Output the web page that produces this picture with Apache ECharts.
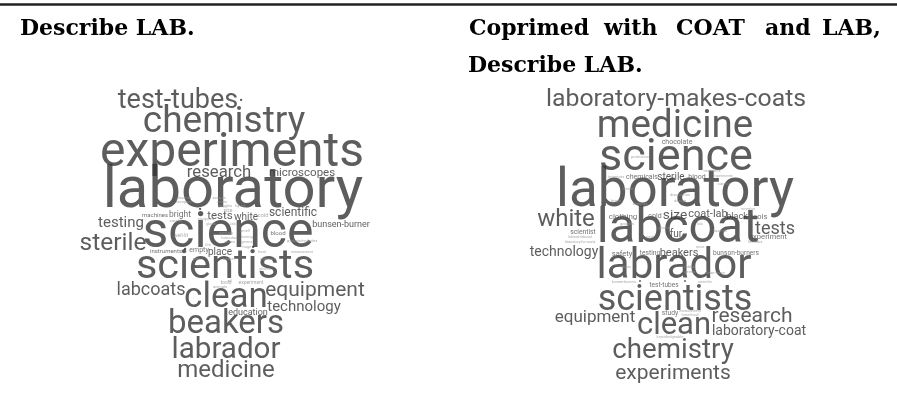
<!DOCTYPE html>
<html>
<head>
<meta charset="utf-8">
<script src="https://cdn.jsdelivr.net/npm/echarts@6/dist/echarts.min.js"></script>
<style>
html,body{margin:0;padding:0;background:#fff;}
#chart{width:897px;height:403px;}
</style>
</head>
<body>
<div id="chart"></div>
<script>
// ---------- Left cloud: "Describe LAB." ----------
const leftWords = ['laboratory','experiments','science','scientists','chemistry','clean','beakers','labrador','test-tubes','sterile','medicine','equipment','labcoats','research','technology','testing','scientific','microscopes','tests','white','place','bunsen-burner','bright','education','machines','instruments','empty','cold','blood','well-lit','tools','experiment','size',
  'compare','discover','sample','coats','goggles','liquid','careful','equipped','glass','lab','sanitary','formulas','notes','smell','boring','germs','huge','fire','pens','beaker','heat','measure','graduated-cylinders','measurement','mice','animals','oil','gloves',
  '•','•','•','•'];
const leftSize  = [58,48,50,41.5,37,35,33,29.6,27,24.5,24,21,18,16.7,15,15,12,11.5,11.5,10,10,9,8.5,9,6,6,7,5.5,6,5,5,5,5,
  4,4,4,4,4,4,4,4,4,4,4,4,4,4,4,4,4,4,4,4,4,4,3.5,3.5,4,4,4,4,
  11,11,11,11];
const leftX     = [233,232,228,225,224,226,226,226,178,113,226,315,151,219,304,121,293,302,220,246,220,341,180,248,155,166,199,263,278,181,226,251,228,
  184,184,219,222,225,240,176,206,211,233,226,229,230,245,247,247,247,208,197,229,262,268,302,302,200,220,230,265,
  241,200,185,253];
const leftY     = [192,154,234,268,123,298,325,351,101,244,371,291,290,173,307,223,213,173,216,217,252,225,215,313,215,251,250,216,233,236,283,283,211,
  202,198,198,202,206,206,221,219,224,224,233,238,242,231,237,242,247,245,259,259,252,259,241,252,266,287,281,269,
  101,210,250,248];

// ---------- Right cloud: "Coprimed with COAT and LAB, Describe LAB." ----------
const rightWords = ['laboratory','science','labcoat','medicine','labrador','scientists','clean','chemistry','laboratory-makes-coats','white','research','experiments','tests','equipment','laboratory-coat','technology','size','coat-lab','beakers','sterile','fur','black','clothing','chemicals','experiment','chocolate','tools','safety','cold','blood','scientist','testing','test-tubes','study','bunson-burners',
  'protection','inventors','treatments','experiments','bright','samples','discoveries','design','inventor','labcoat-labcoat','laboratory-for-coats','forensics','bunsen-burners','scientific','knowledgeable','measurement','fume-hood','goggles','gloves','lab','mice','fabric','hazards','rubber','germs','careful','tested','neat','clean-room',
  '•','•'];
const rightSize  = [53,45,49,38.5,42,36,31,27.7,24.8,24,21,21,18,17,14,14,13.7,11,11,10,10,9,8,7,7.6,7,7.5,7.5,7,7,6.8,6.7,6.5,6.7,6.6,
  4,4,3.5,3.5,4,4,4,4,4,3.5,3.5,3.5,3.5,3.5,4,3.5,3.5,4,4,4,4,4,4,4,4,4,4,4,4,
  9,9];
const rightX     = [675,676,678,675,674,675,674,673,676,566,752,673,775,595,759,564,675,708,679,671,676,737,623,642,768,677,759,622,655,697,583,650,664,670,736,
  640,616,712,723,616,640,680,680,748,580,580,755,624,705,670,690,690,627,664,700,700,626,720,690,690,724,628,650,715,
  640,685];
const rightY     = [193,159,230,127,267,301,326,351,100,220,317,374,229,318,331,252,216,214,253,177,234,217,217,177,237,142,217,254,216,177,232,253,285,313,253,
  157,177,171,176,201,204,195,201,209,237,242,242,282,282,337,311,315,224,228,224,247,267,231,267,272,184,189,237,273,
  282,282];

// ---------- Headers ----------
const leftTitle = 'Describe LAB.';
const rightTitleLine1 = ['Coprimed','with','COAT','and','LAB,'];
const rightTitleLine2 = 'Describe LAB.';

function colorFor(fs){
  if (fs >= 9) return '#353535';
  if (fs >= 6) return '#505050';
  return '#959595';
}
function buildData(words, sizes, xs, ys){
  return words.map(function(w, i){
    const fs = sizes[i];
    return {
      value: [xs[i], ys[i]],
      name: w,
      label: { fontSize: fs, color: colorFor(fs) }
    };
  });
}

const chart = echarts.init(document.getElementById('chart'), null, {renderer:'canvas'});

const headerFont = {fontFamily:'DejaVu Serif', fontWeight:'bold', fontSize:22, fill:'#000'};
const line1X = [469, 604, 676, 765, 822];
const graphics = [
  {type:'line', shape:{x1:0, y1:4.5, x2:897, y2:4.5}, style:{stroke:'#222', lineWidth:2.5}, z:10},
  {type:'text', left:20, top:18, style:Object.assign({text:leftTitle}, headerFont)},
  {type:'text', left:468, top:55, style:Object.assign({text:rightTitleLine2}, headerFont)}
];
rightTitleLine1.forEach(function(w, i){
  graphics.push({type:'text', left:line1X[i], top:18, style:Object.assign({text:w}, headerFont)});
});

const labelBase = {
  show: true,
  position: 'inside',
  align: 'center',
  verticalAlign: 'middle',
  fontFamily: 'Roboto',
  formatter: function(p){ return p.name; }
};

chart.setOption({
  animation: false,
  backgroundColor: '#fff',
  grid: {left:0, right:0, top:0, bottom:0},
  xAxis: {type:'value', min:0, max:897, show:false},
  yAxis: {type:'value', min:0, max:403, inverse:true, show:false},
  graphic: graphics,
  series: [
    {type:'scatter', symbolSize:0, data: buildData(leftWords, leftSize, leftX, leftY), label: labelBase, emphasis:{disabled:true}},
    {type:'scatter', symbolSize:0, data: buildData(rightWords, rightSize, rightX, rightY), label: labelBase, emphasis:{disabled:true}}
  ]
});
</script>
</body>
</html>
